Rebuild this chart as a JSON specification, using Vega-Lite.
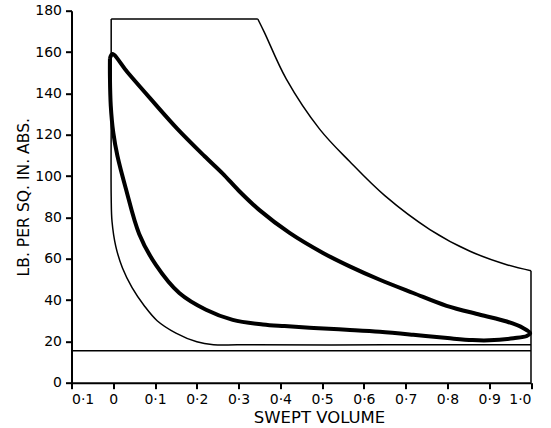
{
  "$schema": "https://vega.github.io/schema/vega-lite/v6.json",
  "autosize": "none",
  "width": 459.5,
  "height": 372,
  "padding": {"left": 71.5, "top": 10.7, "right": 20, "bottom": 45},
  "background": "white",
  "config": {
    "view": {"stroke": null},
    "axis": {
      "grid": false,
      "domainColor": "black",
      "domainWidth": 2,
      "tickColor": "black",
      "tickWidth": 2,
      "tickSize": 6,
      "labelFont": "DejaVu Sans",
      "labelFontSize": 14,
      "labelColor": "black",
      "labelPadding": 4,
      "titleFont": "DejaVu Sans",
      "titleFontSize": 15.6,
      "titleFontWeight": "normal",
      "titleColor": "black"
    }
  },
  "datasets": {
    "pts": [
      {"s": "curve", "g": "inner", "o": 1, "x": -0.005, "y": 176},
      {"s": "curve", "g": "inner", "o": 2, "x": -0.005, "y": 130},
      {"s": "curve", "g": "inner", "o": 3, "x": -0.005, "y": 90},
      {"s": "curve", "g": "inner", "o": 4, "x": -0.003, "y": 78},
      {"s": "curve", "g": "inner", "o": 5, "x": 0.006, "y": 66},
      {"s": "curve", "g": "inner", "o": 6, "x": 0.022, "y": 55.5},
      {"s": "curve", "g": "inner", "o": 7, "x": 0.045, "y": 46},
      {"s": "curve", "g": "inner", "o": 8, "x": 0.075, "y": 37},
      {"s": "curve", "g": "inner", "o": 9, "x": 0.105, "y": 30},
      {"s": "curve", "g": "inner", "o": 10, "x": 0.15, "y": 24},
      {"s": "curve", "g": "inner", "o": 11, "x": 0.2, "y": 19.8},
      {"s": "curve", "g": "inner", "o": 12, "x": 0.24, "y": 18.4},
      {"s": "curve", "g": "inner", "o": 13, "x": 0.3, "y": 18.3},
      {"s": "curve", "g": "inner", "o": 14, "x": 0.65, "y": 18.3},
      {"s": "curve", "g": "inner", "o": 15, "x": 1.0, "y": 18.3},
      {"s": "curve", "g": "hyper", "o": 1, "x": 0.346, "y": 176},
      {"s": "curve", "g": "hyper", "o": 2, "x": 0.362, "y": 169.4},
      {"s": "curve", "g": "hyper", "o": 3, "x": 0.414, "y": 147},
      {"s": "curve", "g": "hyper", "o": 4, "x": 0.494, "y": 122.7},
      {"s": "curve", "g": "hyper", "o": 5, "x": 0.566, "y": 107},
      {"s": "curve", "g": "hyper", "o": 6, "x": 0.65, "y": 90.5},
      {"s": "curve", "g": "hyper", "o": 7, "x": 0.758, "y": 74.1},
      {"s": "curve", "g": "hyper", "o": 8, "x": 0.854, "y": 63.6},
      {"s": "curve", "g": "hyper", "o": 9, "x": 0.942, "y": 57.1},
      {"s": "curve", "g": "hyper", "o": 10, "x": 1.0, "y": 54.2},
      {"s": "straight", "g": "top", "o": 1, "x": -0.005, "y": 176},
      {"s": "straight", "g": "top", "o": 2, "x": 0.346, "y": 176},
      {"s": "straight", "g": "right", "o": 1, "x": 1.0, "y": 54.2},
      {"s": "straight", "g": "right", "o": 2, "x": 1.0, "y": 0},
      {"s": "straight", "g": "atm", "o": 1, "x": -0.1, "y": 15.5},
      {"s": "straight", "g": "atm", "o": 2, "x": 1.0, "y": 15.5},
      {"s": "loop", "g": "loop", "o": 1, "x": -0.008, "y": 157},
      {"s": "loop", "g": "loop", "o": 2, "x": -0.002, "y": 159},
      {"s": "loop", "g": "loop", "o": 3, "x": 0.034, "y": 150.2},
      {"s": "loop", "g": "loop", "o": 4, "x": 0.09, "y": 137.2},
      {"s": "loop", "g": "loop", "o": 5, "x": 0.154, "y": 122.7},
      {"s": "loop", "g": "loop", "o": 6, "x": 0.218, "y": 109.7},
      {"s": "loop", "g": "loop", "o": 7, "x": 0.262, "y": 101.2},
      {"s": "loop", "g": "loop", "o": 8, "x": 0.3, "y": 93},
      {"s": "loop", "g": "loop", "o": 9, "x": 0.35, "y": 83.5},
      {"s": "loop", "g": "loop", "o": 10, "x": 0.422, "y": 72.5},
      {"s": "loop", "g": "loop", "o": 11, "x": 0.502, "y": 62.8},
      {"s": "loop", "g": "loop", "o": 12, "x": 0.566, "y": 56.3},
      {"s": "loop", "g": "loop", "o": 13, "x": 0.638, "y": 49.8},
      {"s": "loop", "g": "loop", "o": 14, "x": 0.718, "y": 43.4},
      {"s": "loop", "g": "loop", "o": 15, "x": 0.798, "y": 37.2},
      {"s": "loop", "g": "loop", "o": 16, "x": 0.878, "y": 32.9},
      {"s": "loop", "g": "loop", "o": 17, "x": 0.942, "y": 29.6},
      {"s": "loop", "g": "loop", "o": 18, "x": 0.982, "y": 26.4},
      {"s": "loop", "g": "loop", "o": 19, "x": 0.998, "y": 24},
      {"s": "loop", "g": "loop", "o": 20, "x": 0.99, "y": 22.6},
      {"s": "loop", "g": "loop", "o": 21, "x": 0.958, "y": 21.5},
      {"s": "loop", "g": "loop", "o": 22, "x": 0.9, "y": 20.5},
      {"s": "loop", "g": "loop", "o": 23, "x": 0.86, "y": 20.6},
      {"s": "loop", "g": "loop", "o": 24, "x": 0.8, "y": 21.6},
      {"s": "loop", "g": "loop", "o": 25, "x": 0.718, "y": 23.2},
      {"s": "loop", "g": "loop", "o": 26, "x": 0.638, "y": 24.6},
      {"s": "loop", "g": "loop", "o": 27, "x": 0.558, "y": 25.6},
      {"s": "loop", "g": "loop", "o": 28, "x": 0.48, "y": 26.5},
      {"s": "loop", "g": "loop", "o": 29, "x": 0.41, "y": 27.4},
      {"s": "loop", "g": "loop", "o": 30, "x": 0.358, "y": 28.2},
      {"s": "loop", "g": "loop", "o": 31, "x": 0.286, "y": 30.4},
      {"s": "loop", "g": "loop", "o": 32, "x": 0.222, "y": 35.3},
      {"s": "loop", "g": "loop", "o": 33, "x": 0.158, "y": 43.4},
      {"s": "loop", "g": "loop", "o": 34, "x": 0.102, "y": 57},
      {"s": "loop", "g": "loop", "o": 35, "x": 0.062, "y": 72},
      {"s": "loop", "g": "loop", "o": 36, "x": 0.03, "y": 94},
      {"s": "loop", "g": "loop", "o": 37, "x": 0.01, "y": 109.7},
      {"s": "loop", "g": "loop", "o": 38, "x": 0.0, "y": 121},
      {"s": "loop", "g": "loop", "o": 39, "x": -0.006, "y": 134},
      {"s": "loop", "g": "loop", "o": 40, "x": -0.008, "y": 148},
      {"s": "loop", "g": "loop", "o": 41, "x": -0.008, "y": 157}
    ]
  },
  "data": {"name": "pts"},
  "encoding": {
    "x": {
      "field": "x", "type": "quantitative",
      "scale": {"domain": [-0.1, 1.0], "nice": false, "zero": false},
      "axis": {
        "title": "SWEPT VOLUME",
        "values": [-0.1, 0, 0.1, 0.2, 0.3, 0.4, 0.5, 0.6, 0.7, 0.8, 0.9, 1.0],
        "labelExpr": "abs(datum.value) < 0.001 ? '0' : replace(format(abs(datum.value), '.1f'), '.', '·')",
        "titleX": 247.5,
        "titleY": 35,
        "titleAlign": "center",
        "titleBaseline": "middle",
        "titleFontSize": 16.5
      }
    },
    "y": {
      "field": "y", "type": "quantitative",
      "scale": {"domain": [0, 180], "nice": false},
      "axis": {
        "title": "LB. PER SQ. IN. ABS.",
        "values": [0, 20, 40, 60, 80, 100, 120, 140, 160, 180],
        "titleX": -48.5,
        "titleY": 186,
        "titleAngle": -90,
        "titleAlign": "center",
        "titleBaseline": "middle"
      }
    },
    "order": {"field": "o", "type": "quantitative"},
    "detail": {"field": "g", "type": "nominal"}
  },
  "layer": [
    {
      "transform": [{"filter": "datum.s == 'curve'"}],
      "mark": {"type": "line", "color": "black", "strokeWidth": 1.5, "interpolate": "catmull-rom"}
    },
    {
      "transform": [{"filter": "datum.s == 'straight'"}],
      "mark": {"type": "line", "color": "black", "strokeWidth": 1.5}
    },
    {
      "transform": [{"filter": "datum.s == 'loop'"}],
      "mark": {"type": "line", "color": "black", "strokeWidth": 4, "interpolate": "catmull-rom", "strokeJoin": "round"}
    }
  ]
}
